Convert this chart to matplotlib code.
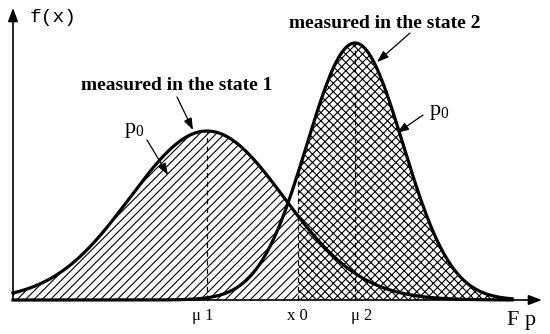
import matplotlib; matplotlib.use("Agg"); import matplotlib.pyplot as plt
import numpy as np

plt.rcParams["hatch.linewidth"] = 0.8
plt.rcParams["mathtext.fontset"] = "custom"
plt.rcParams["mathtext.rm"] = "Liberation Serif"

# ═══════ Schematic parameters (drawing units ≈ pixels, baseline at 0) ═══════
means = [207, 355]        # mu1, mu2
sigmas = [77, 48]
peaks = [169, 257]
x0 = 298                  # decision threshold
x_start, x_end = 13, 512

tick_pos = [192, 287, 351]
tick_labels = ["μ 1", "x 0", "μ 2"]

x = np.linspace(x_start, x_end, 800)
f1 = peaks[0] * np.exp(-(x - means[0]) ** 2 / (2 * sigmas[0] ** 2))
f2 = peaks[1] * np.exp(-(x - means[1]) ** 2 / (2 * sigmas[1] ** 2))

fig = plt.figure(figsize=(5.5, 3.34), dpi=100)
ax = fig.add_axes([0, 0, 1, 1])
ax.set_xlim(0, 550); ax.set_ylim(-34, 300)
ax.axis("off")

# hatched areas
ax.fill_between(x, 0, f1, where=x <= x0, facecolor="white", edgecolor="black",
                hatch="////", linewidth=0, zorder=1)
ax.fill_between(x, 0, f2, where=x >= x0, facecolor="white", edgecolor="black",
                hatch="xxxx", linewidth=0, zorder=1)

# curves
ax.plot(x, f1, color="black", lw=2.3, zorder=3)
ax.plot(x, f2, color="black", lw=2.3, zorder=3)

# dashed guides
dash = dict(color="black", lw=0.9, ls=(0, (4, 3)), zorder=2)
ax.plot([means[0]] * 2, [0, peaks[0]], **dash)
ax.plot([means[1]] * 2, [0, peaks[1]], **dash)
f2_x0 = peaks[1] * np.exp(-(x0 - means[1]) ** 2 / (2 * sigmas[1] ** 2))
ax.plot([x0] * 2, [0, f2_x0], **dash)

# axes with arrows
axis_arrow = dict(arrowstyle="-|>,head_length=0.8,head_width=0.3", color="black",
                  lw=1.2, shrinkA=0, shrinkB=0)
ax.annotate("", xy=(13, 292), xytext=(13, 0), arrowprops=axis_arrow, zorder=4)
ax.annotate("", xy=(542, 0), xytext=(13, 0), arrowprops=axis_arrow, zorder=4)

# labels
ax.text(30, 283, "f(x)", family="Liberation Mono", fontsize=14, va="center")
for px, lab in zip(tick_pos, tick_labels):
    ax.text(px, -20, lab, family="Liberation Serif", fontsize=12, va="baseline")
ax.text(507, -25, "F p", family="Liberation Serif", fontsize=16, va="baseline")

serif_b = dict(family="Liberation Serif", fontweight="bold", fontsize=14)
ax.text(177, 210, "measured in the state 1", ha="center", va="baseline", **serif_b)
ax.text(385, 272, "measured in the state 2", ha="center", va="baseline", **serif_b)
ax.text(124, 167, r"$\mathrm{p}_0$", fontsize=16, va="baseline")
ax.text(429, 185, r"$\mathrm{p}_0$", fontsize=16, va="baseline")

pointer = dict(arrowstyle="-|>,head_length=0.7,head_width=0.25", color="black",
               lw=0.9, shrinkA=0, shrinkB=0)
for start, tip in [((177, 203), (193, 170)), ((147, 160), (168, 125)),
                   ((410, 267), (377, 238)), ((423, 185), (397, 167))]:
    ax.annotate("", xy=tip, xytext=start, arrowprops=pointer, zorder=5)

plt.savefig("out.png", dpi=100)
